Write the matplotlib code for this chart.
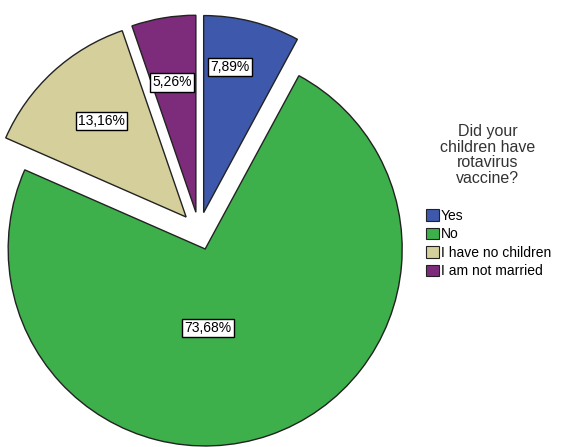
import numpy as np
import matplotlib
matplotlib.use("Agg")
import matplotlib.pyplot as plt
from matplotlib.patches import Patch

# data
categories = ["Yes", "No", "I have no children", "I am not married"]
percents = [7.89, 73.68, 13.16, 5.26]
legend_title = "Did your\nchildren have\nrotavirus\nvaccine?"

colors = ["#3E58AC", "#3DB04B", "#D4CF9B", "#7D2C7B"]

plt.rcParams['font.family'] = ['Liberation Sans', 'DejaVu Sans']

W, H = 563, 447
fig = plt.figure(figsize=(W / 100, H / 100), dpi=100)
ax = fig.add_axes([0, 0, 1, 1])

cx, cy, r = 199, H - 231, 197
# explode is an absolute offset here (pixel units)
wedges, _ = ax.pie(percents, colors=colors, startangle=90, counterclock=False,
                   explode=[19] * 4, center=(cx, cy), radius=r,
                   wedgeprops=dict(edgecolor="#222222", linewidth=1.0),
                   frame=True)
ax.set_xlim(0, W)
ax.set_ylim(0, H)
ax.set_aspect('equal')
ax.axis('off')

# label placement (fraction of radius, angle nudge in degrees)
lab_dist = [0.75, 0.40, 0.65, 0.67]
lab_nudge = [4, -17, -1, 1]
for w, p, d, nd in zip(wedges, percents, lab_dist, lab_nudge):
    mid = np.deg2rad((w.theta1 + w.theta2) / 2)
    ex, ey = w.center
    a = mid + np.deg2rad(nd)
    x = ex + d * r * np.cos(a)
    y = ey + d * r * np.sin(a)
    ax.text(x, y, f"{p:.2f}%".replace(".", ","), ha="center", va="center",
            fontsize=10, color="black",
            bbox=dict(boxstyle="square,pad=0.15", fc="white", ec="black", lw=1.0))

# legend title drawn separately so the gap to the entries matches
fig.text(488 / W, 1 - 124 / H, legend_title, ha="center", va="top",
         fontsize=11.5, color="#333333", linespacing=1.05)

handles = [Patch(facecolor=c, edgecolor="#222222", linewidth=0.8) for c in colors]
leg = fig.legend(handles, categories, loc="upper left",
                 bbox_to_anchor=(426 / W, 1 - 209 / H), frameon=False,
                 fontsize=10, handlelength=0.9,
                 handleheight=0.9, handletextpad=0.15, labelspacing=0.32,
                 borderaxespad=0, borderpad=0)

fig.savefig("out.png", dpi=100)
